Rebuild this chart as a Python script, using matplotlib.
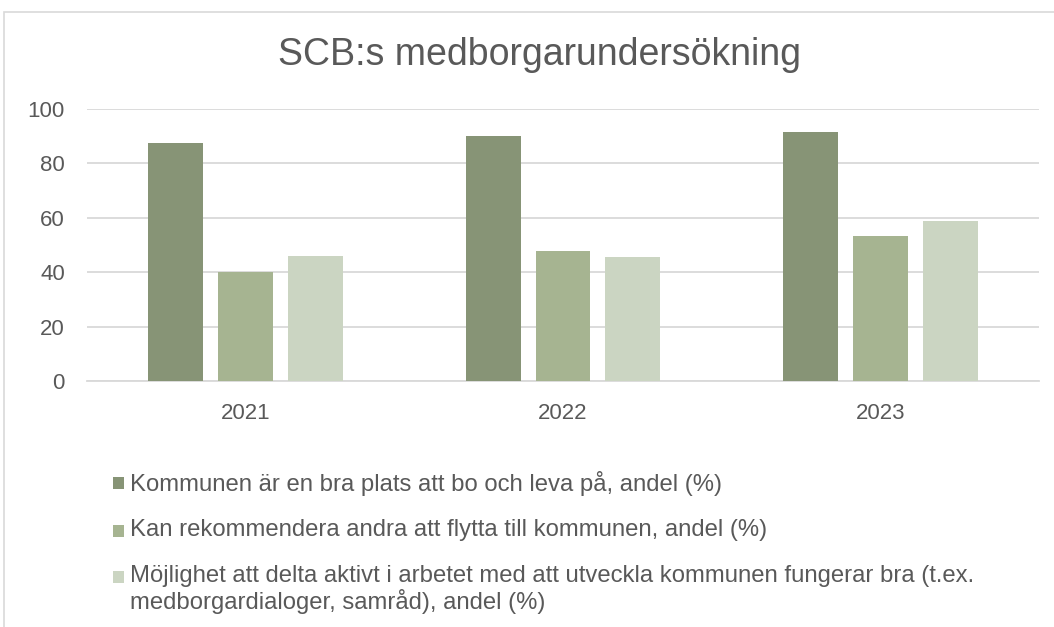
import numpy as np
import matplotlib
matplotlib.use("Agg")
import matplotlib.pyplot as plt
from matplotlib.patches import Rectangle

plt.rcParams["font.family"] = ["Liberation Sans", "DejaVu Sans"]

years = ["2021", "2022", "2023"]
bra_plats = [87.6, 90.1, 91.5]
rekommendera = [40.2, 47.7, 53.3]
delta_aktivt = [45.9, 45.7, 58.7]

series_labels = [
    "Kommunen är en bra plats att bo och leva på, andel (%)",
    "Kan rekommendera andra att flytta till kommunen, andel (%)",
    "Möjlighet att delta aktivt i arbetet med att utveckla kommunen fungerar bra (t.ex.\nmedborgardialoger, samråd), andel (%)",
]
colors = ["#879476", "#a6b491", "#cbd5c2"]
text_col = "#595959"
grid_col = "#d9d9d9"

W, H = 1054, 627
fig = plt.figure(figsize=(W / 100, H / 100), dpi=100)

# chart frame
fig.patches.append(Rectangle((4 / W, -0.1), 1.2, 1 - 12 / H + 0.1, transform=fig.transFigure,
                             fill=False, edgecolor=grid_col, linewidth=1.2))

ax = fig.add_axes([87 / W, 1 - 381 / H, (1039 - 87) / W, (381 - 109) / H])
x = np.arange(len(years))
bw = 0.173
step = 0.22
for i, vals in enumerate([bra_plats, rekommendera, delta_aktivt]):
    ax.bar(x + (i - 1) * step, vals, bw, color=colors[i], zorder=3)

ax.set_xlim(-0.5, 2.5)
ax.set_ylim(0, 100)
ax.set_yticks(range(0, 101, 20))
ax.set_xticks(x)
ax.set_xticklabels(years)
ax.yaxis.grid(True, color=grid_col, linewidth=1.3, zorder=0)
for s in ["top", "right", "left"]:
    ax.spines[s].set_visible(False)
ax.spines["bottom"].set_color(grid_col)
ax.spines["bottom"].set_linewidth(1.3)
ax.tick_params(length=0, labelsize=16, colors=text_col)
ax.tick_params(axis="y", pad=16)
ax.tick_params(axis="x", pad=16)

fig.text(539 / W, 1 - 55 / H, "SCB:s medborgarundersökning", ha="center", va="center",
         fontsize=27, color=text_col)

# legend
rows = [483, 531, 577]
for c, lab, y in zip(colors, series_labels, rows):
    fig.patches.append(Rectangle((113 / W, 1 - (y + 6) / H), 11 / W, 12 / H,
                                 transform=fig.transFigure, facecolor=c, edgecolor="none"))
    fig.text(130 / W, 1 - (y - 12) / H, lab, ha="left", va="top", fontsize=17.2,
             color=text_col, linespacing=1.08)

fig.savefig("out.png", dpi=100)
